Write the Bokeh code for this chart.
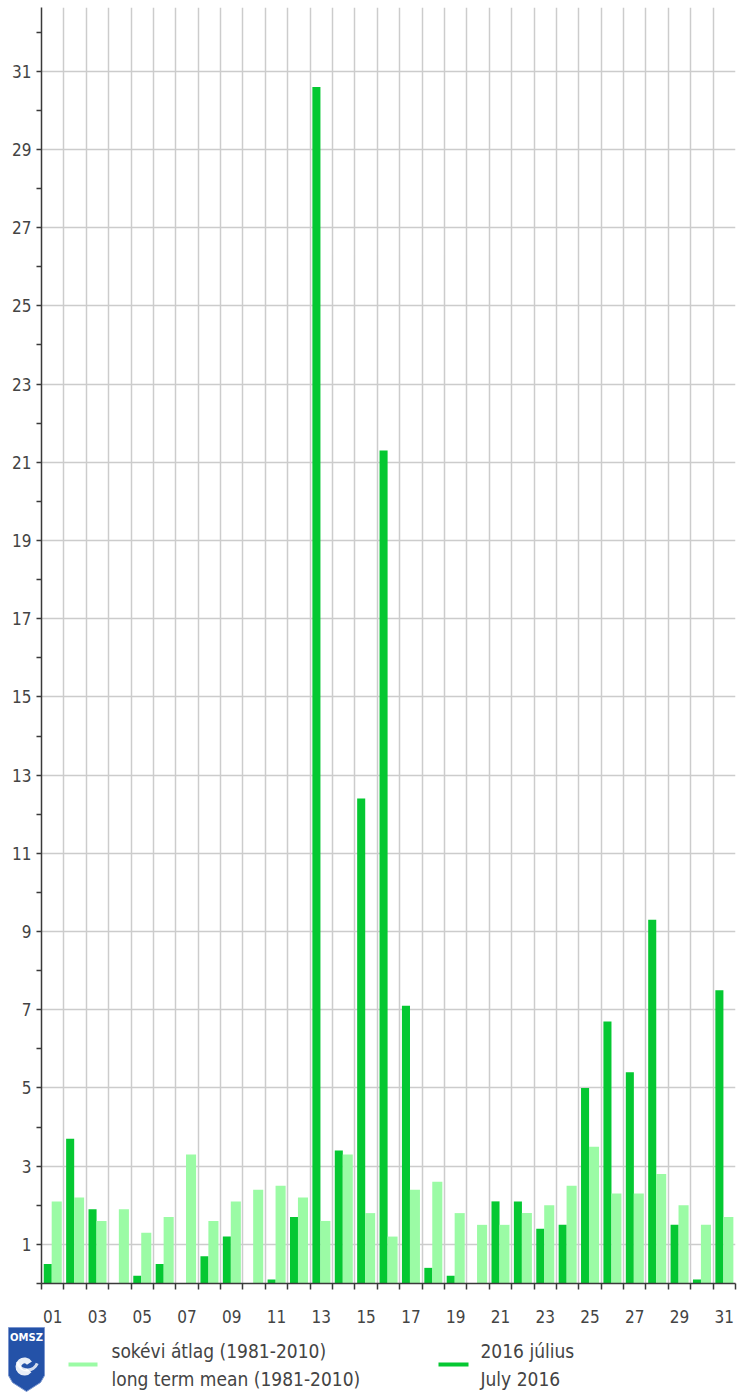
from bokeh.plotting import figure
from bokeh.models import FixedTicker, Range1d, ColumnDataSource
from bokeh.transform import dodge
from bokeh.layouts import column
from bokeh.embed import file_html
from bokeh.resources import INLINE
from bokeh.core.properties import value

# ---------------- data ----------------
days = list(range(1, 32))
july_2016 = [0.5, 3.7, 1.9, 0.0, 0.2, 0.5, 0.0, 0.7, 1.2, 0.0,
             0.1, 1.7, 30.6, 3.4, 12.4, 21.3, 7.1, 0.4, 0.2, 0.0,
             2.1, 2.1, 1.4, 1.5, 5.0, 6.7, 5.4, 9.3, 1.5, 0.1, 7.5]
long_term_mean = [2.1, 2.2, 1.6, 1.9, 1.3, 1.7, 3.3, 1.6, 2.1, 2.4,
                  2.5, 2.2, 1.6, 3.3, 1.8, 1.2, 2.4, 2.6, 1.8, 1.5,
                  1.5, 1.8, 2.0, 2.5, 3.5, 2.3, 2.3, 2.8, 2.0, 1.5, 1.7]
x_tick_days = list(range(1, 32, 2))
x_tick_labels = ["%02d" % d for d in x_tick_days]
y_major_ticks = list(range(1, 32, 2))
y_minor_ticks = list(range(0, 33, 2))
y_max = 32.63
legend_mean = ["sokévi átlag (1981-2010)", "long term mean (1981-2010)"]
legend_2016 = ["2016 július", "July 2016"]

DARK = "#05C832"
LIGHT = "#9BFBA5"
FONT = "DejaVu Sans Condensed"
TXT = "#444444"
AXC = "#3a3a3a"
GRID = "#cccccc"

W = 741
H1 = 1325
H2 = 1393 - H1

p = figure(width=W, height=H1, x_range=Range1d(0.5, 31.5), y_range=Range1d(0, y_max),
           output_backend="svg", toolbar_location=None,
           min_border_left=41, min_border_right=6, min_border_top=7, min_border_bottom=40)
p.outline_line_color = None
p.frame_align = False

src = ColumnDataSource(dict(day=days, july=july_2016, mean=long_term_mean))
p.vbar(x=dodge('day', -0.22), top='july', width=0.36, source=src,
       fill_color=DARK, line_color=None)
p.vbar(x=dodge('day', 0.18), top='mean', width=0.45, source=src,
       fill_color=LIGHT, line_color=None)

# x axis: labels at odd day centres, tick marks at day boundaries
xa = p.xaxis[0]
xa.ticker = FixedTicker(ticks=x_tick_days, minor_ticks=[d + 0.5 for d in [0] + days])
xa.major_label_overrides = {d: l for d, l in zip(x_tick_days, x_tick_labels)}
xa.major_tick_out = 0
xa.major_tick_in = 0
xa.minor_tick_out = 6
xa.minor_tick_in = 0
xa.major_label_standoff = 20
xa.axis_line_color = AXC
xa.axis_line_width = 1.5
xa.minor_tick_line_color = AXC
xa.minor_tick_line_width = 1.5
xa.major_label_text_font = FONT
xa.major_label_text_font_size = "17px"
xa.major_label_text_color = TXT

ya = p.yaxis[0]
ya.ticker = FixedTicker(ticks=y_major_ticks, minor_ticks=y_minor_ticks)
ya.major_tick_out = 5
ya.major_tick_in = 0
ya.minor_tick_out = 5
ya.minor_tick_in = 0
ya.major_label_standoff = 5
ya.axis_line_color = AXC
ya.axis_line_width = 1.5
ya.major_tick_line_color = AXC
ya.major_tick_line_width = 1.5
ya.minor_tick_line_color = AXC
ya.minor_tick_line_width = 1.5
ya.major_label_text_font = FONT
ya.major_label_text_font_size = "17px"
ya.major_label_text_color = TXT

p.ygrid.grid_line_color = GRID
p.ygrid.grid_line_width = 1.5
p.xgrid.ticker = FixedTicker(ticks=[d + 0.5 for d in days])
p.xgrid.grid_line_color = GRID
p.xgrid.grid_line_width = 1.5

# ---------------- legend strip ----------------
lg = figure(width=W, height=H2, x_range=Range1d(0, W), y_range=Range1d(H2, 0),
            output_backend="svg", toolbar_location=None, min_border=0,
            min_border_left=0, min_border_right=0, min_border_top=0, min_border_bottom=0,
            x_axis_type=None, y_axis_type=None)
lg.frame_align = False
lg.grid.visible = False
lg.outline_line_color = None

# OMSZ logo (shield)
lg.patch(x=[8, 44, 44, 40, 26, 12, 8], y=[2, 2, 50, 57, 66, 57, 50],
         fill_color="#2452a8", line_color="#7b96cf", line_width=1)
lg.text(x=[26], y=[12], text=["OMSZ"], text_align="center", text_baseline="middle",
        text_font=value("DejaVu Sans"), text_font_style="bold", text_font_size="10px",
        text_color="white")
lg.annular_wedge(x=[24], y=[41], inner_radius=3, outer_radius=9, start_angle=0.6,
                 end_angle=5.6, fill_color="white", line_color=None, fill_alpha=0.9)
lg.annular_wedge(x=[27], y=[34], inner_radius=9, outer_radius=12, start_angle=3.4,
                 end_angle=5.9, fill_color="white", line_color=None, fill_alpha=0.8)

lg.segment(x0=[68], y0=[39], x1=[97], y1=[39], line_color=LIGHT, line_width=4)
lg.segment(x0=[438], y0=[39], x1=[468], y1=[39], line_color=DARK, line_width=4)
lg.text(x=[111, 111], y=[25, 53], text=legend_mean, text_baseline="middle",
        text_font=value(FONT), text_font_size="19px", text_color=TXT)
lg.text(x=[480, 480], y=[25, 53], text=legend_2016, text_baseline="middle",
        text_font=value(FONT), text_font_size="19px", text_color=TXT)

layout = column(p, lg, spacing=0)
open("out.html", "w").write(file_html(layout, INLINE))
